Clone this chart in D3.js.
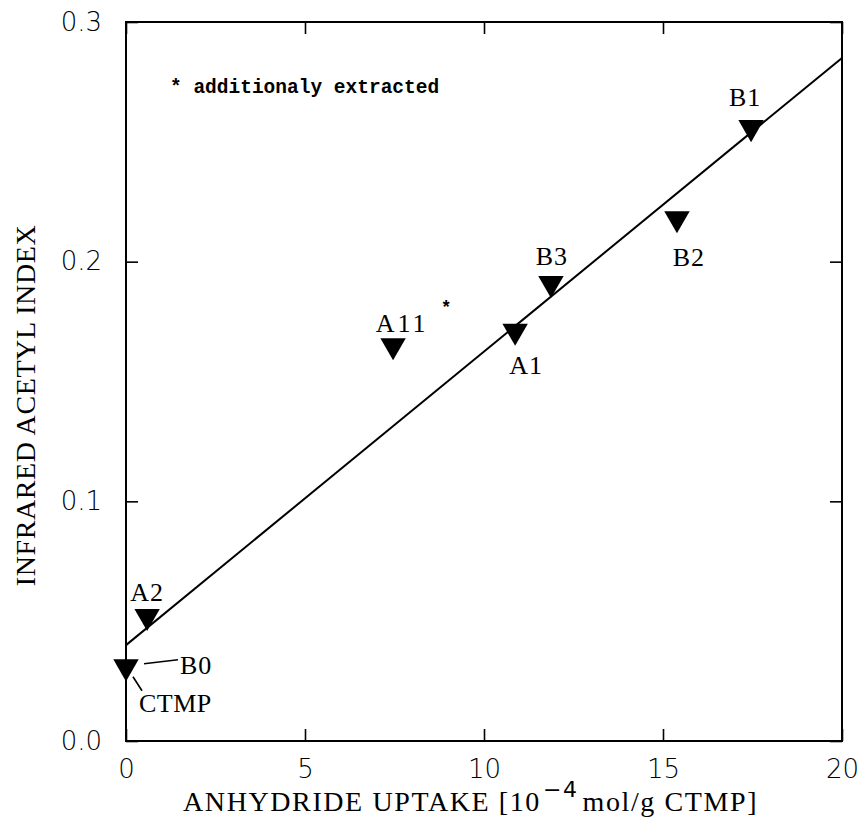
<!DOCTYPE html>
<html><head><meta charset="utf-8">
<script src="https://cdn.jsdelivr.net/npm/d3@7"></script>
<style>body{margin:0;background:#fff}</style>
</head><body>
<svg id="chart" width="864" height="818"></svg>
<script>
const labels = ["CTMP", "A2", "A11", "A1", "B3", "B2", "B1"];
const uptake = [0, 0.59, 7.46, 10.87, 11.87, 15.39, 17.46];
const acetylIndex = [0.031, 0.052, 0.165, 0.171, 0.191, 0.218, 0.256];
const fitX = [0, 20];
const fitY = [0.04, 0.285];
const xTicks = [0, 5, 10, 15, 20];
const yTicks = [0, 0.1, 0.2, 0.3];

const svg = d3.select("#chart");
const L = 126, R = 842, T = 22, B = 741;
const x = d3.scaleLinear().domain([0, 20]).range([L, R]);
const y = d3.scaleLinear().domain([0, 0.3]).range([B, T]);
const sans = "'DejaVu Sans', sans-serif";
const serif = "'Liberation Serif', 'Times New Roman', serif";

function styleAxis(g, showText) {
  g.select(".domain").remove();
  g.selectAll(".tick line").attr("stroke", "#000").attr("stroke-width", 1.6);
  g.selectAll(".tick text").attr("font-family", sans).attr("font-size", 26)
    .attr("font-weight", 200).attr("fill", "#000");
  if (!showText) g.selectAll(".tick text").remove();
}

svg.append("g").attr("transform", `translate(0,${B})`)
  .call(d3.axisBottom(x).tickValues(xTicks).tickSize(-12).tickPadding(19).tickFormat(d3.format("d")))
  .call(g => styleAxis(g, true));
svg.append("g").attr("transform", `translate(0,${T})`)
  .call(d3.axisTop(x).tickValues(xTicks).tickSize(-12).tickFormat(""))
  .call(g => styleAxis(g, false));
svg.append("g").attr("transform", `translate(${L},0)`)
  .call(d3.axisLeft(y).tickValues(yTicks).tickSize(-12).tickPadding(24).tickFormat(d3.format(".1f")))
  .call(g => styleAxis(g, true));
svg.append("g").attr("transform", `translate(${R},0)`)
  .call(d3.axisRight(y).tickValues(yTicks).tickSize(-12).tickFormat(""))
  .call(g => styleAxis(g, false));

svg.append("rect").attr("x", L).attr("y", T).attr("width", R - L).attr("height", B - T)
  .attr("fill", "none").attr("stroke", "#000").attr("stroke-width", 2);

// fit line
svg.append("line")
  .attr("x1", x(fitX[0])).attr("y1", y(fitY[0]))
  .attr("x2", x(fitX[1])).attr("y2", y(fitY[1]))
  .attr("stroke", "#000").attr("stroke-width", 2);

// markers
const tri = d3.symbol().type(d3.symbolTriangle).size(280);
svg.append("g").selectAll("path").data(uptake).join("path")
  .attr("d", tri)
  .attr("transform", (d, i) => `translate(${x(d)},${y(acetylIndex[i])}) rotate(180)`)
  .attr("fill", "#000");

// point labels
const lab = [
  {t: "B1", dx: -6, dy: -21},
  {t: "B2", dx: 12, dy: 47},
  {t: "B3", dx: 1, dy: -18},
  {t: "A1", dx: 11, dy: 43},
  {t: "A11", dx: 9, dy: -14},
  {t: "A2", dx: 0, dy: -15}
];
const idx = {B1: 6, B2: 5, B3: 4, A1: 3, A11: 2, A2: 1};
lab.forEach(l => {
  const i = idx[l.t];
  svg.append("text").attr("x", x(uptake[i]) + l.dx).attr("y", y(acetylIndex[i]) + l.dy)
    .attr("text-anchor", "middle").attr("font-family", serif).attr("font-size", 26)
    .attr("letter-spacing", l.t === "A11" ? 3 : 1).text(l.t);
});
// B0 / CTMP with leader lines
const cx = x(uptake[0]), cy = y(acetylIndex[0]);
svg.append("line").attr("x1", cx + 18).attr("y1", cy - 3).attr("x2", cx + 52).attr("y2", cy - 7)
  .attr("stroke", "#000").attr("stroke-width", 1.6);
svg.append("text").attr("x", cx + 54).attr("y", cy + 7).attr("font-family", serif)
  .attr("font-size", 26).attr("letter-spacing", 1).text("B0");
svg.append("line").attr("x1", cx + 7).attr("y1", cy + 10).attr("x2", cx + 16).attr("y2", cy + 24)
  .attr("stroke", "#000").attr("stroke-width", 1.6);
svg.append("text").attr("x", cx + 13).attr("y", cy + 45).attr("font-family", serif)
  .attr("font-size", 26).attr("letter-spacing", 0.5).text("CTMP");

// asterisk for A11
svg.append("text").attr("x", x(uptake[2]) + 53).attr("y", y(acetylIndex[2]) - 33)
  .attr("text-anchor", "middle").attr("font-family", "'Liberation Mono', monospace")
  .attr("font-weight", "bold").attr("font-size", 18).text("*");

// note
svg.append("text").attr("x", 170).attr("y", 93)
  .attr("font-family", "'Liberation Mono', monospace").attr("font-weight", "bold")
  .attr("font-size", 19.5).text("* additionaly extracted");

// axis titles
const xt = svg.append("text").attr("x", 183).attr("y", 811)
  .attr("font-family", serif).attr("font-size", 28).attr("letter-spacing", 1.6);
xt.append("tspan").text("ANHYDRIDE UPTAKE [10");
xt.append("tspan").attr("dy", -14).attr("dx", 2).attr("font-size", 22).attr("font-family", sans).text("−4");
xt.append("tspan").attr("dy", 14).attr("dx", 4).text("mol/g CTMP]");

svg.append("text").attr("transform", `translate(35,${(T + B) / 2 + 24}) rotate(-90)`)
  .attr("text-anchor", "middle").attr("font-family", serif).attr("font-size", 28)
  .attr("letter-spacing", 0.6).text("INFRARED ACETYL INDEX");
</script>
</body></html>
